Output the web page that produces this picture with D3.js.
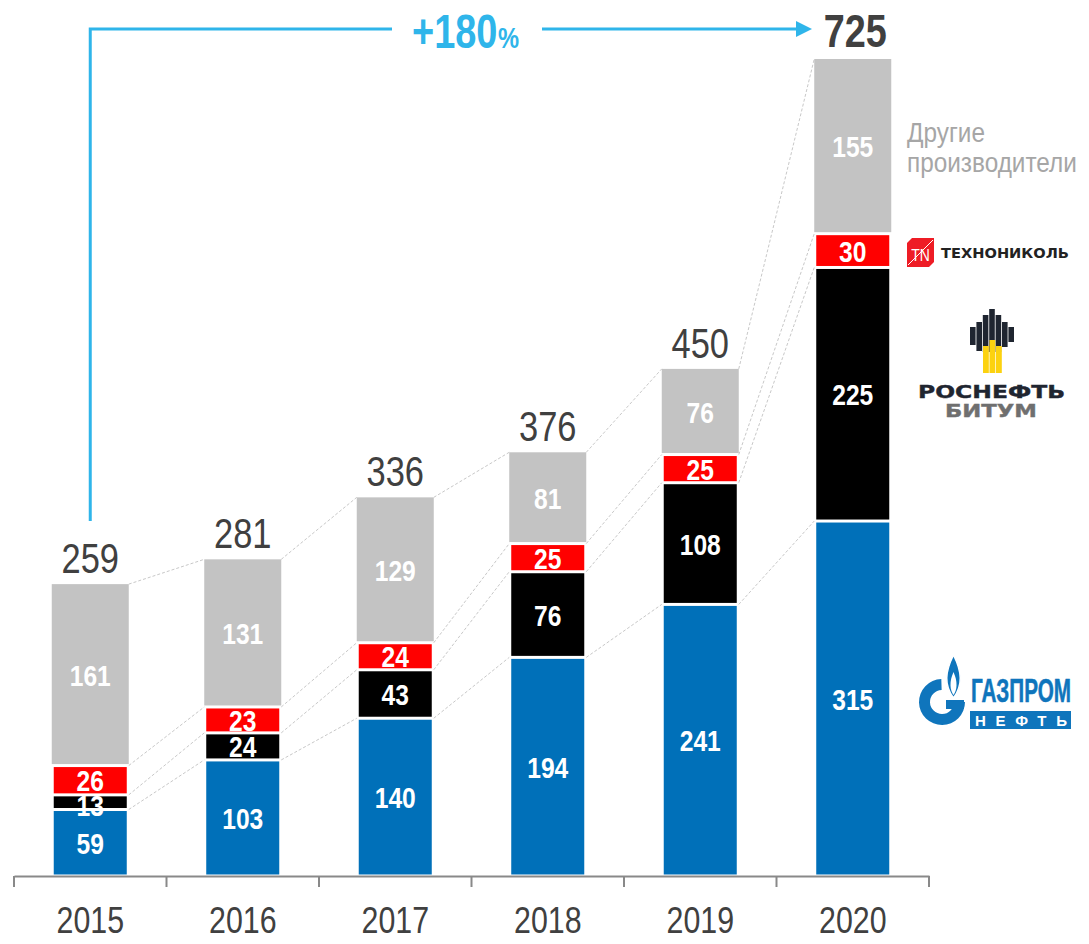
<!DOCTYPE html>
<html><head><meta charset="utf-8">
<script src="https://cdn.jsdelivr.net/npm/d3@7"></script>
<style>html,body{margin:0;padding:0;background:#fff}svg{display:block}text{font-family:"Liberation Sans",sans-serif}</style>
</head><body><div id="chart"></div>
<script>
const years = ["2015","2016","2017","2018","2019","2020"];
const gazprom = [59,103,140,194,241,315];
const rosneft = [13,24,43,76,108,225];
const technonikol = [26,23,24,25,25,30];
const others = [161,131,129,81,76,155];
const totals = [259,281,336,376,450,725];
const growthLabel = "+180";
const seriesKeys = ["gazprom","rosneft","technonikol","others"];
const seriesValues = {gazprom,rosneft,technonikol,others};
const seriesColors = {gazprom:"#0070b9",rosneft:"#000000",technonikol:"#ff0000",others:"#c3c3c3"};
const othersLegend = ["Другие","производители"];

const W=1089,H=944,blue="#2fb5ea",dark="#404040";
const narrow=function(sel,f=0.82){sel.each(function(d){
  const k=typeof f==="function"?f(d):f;
  this.setAttribute("textLength",this.getComputedTextLength()*k);
  this.setAttribute("lengthAdjust","spacingAndGlyphs");});};
const svg=d3.select("#chart").append("svg").attr("width",W).attr("height",H);
const x=d3.scaleBand().domain(years).range([14,929]).paddingInner(0.495).paddingOuter(0.2475);
const y=d3.scaleLinear().domain([0,725]).range([876,59]);
const rows=years.map((yr,i)=>{const r={year:yr};seriesKeys.forEach(k=>r[k]=seriesValues[k][i]);return r;});
const stacked=d3.stack().keys(seriesKeys)(rows);

// connectors
const conn=svg.append("g").attr("stroke","#c8c8c8").attr("stroke-width",1).attr("stroke-dasharray","3 2").attr("fill","none");
stacked.forEach(s=>{
  s.forEach((d,i)=>{
    if(i===s.length-1)return;
    const n=s[i+1];
    conn.append("line")
      .attr("x1",x(years[i])+x.bandwidth()).attr("y1",y(d[1]))
      .attr("x2",x(years[i+1])).attr("y2",y(n[1]));
  });
});

// bars
stacked.forEach(s=>{
  const inset=s.key==="others"?0:2;
  const g=svg.append("g");
  g.selectAll("rect").data(s).join("rect")
    .attr("x",(d,i)=>x(years[i])+inset)
    .attr("width",x.bandwidth()-inset*2)
    .attr("y",d=>y(d[1])+(s.key==="others"?0:1.5))
    .attr("height",d=>y(d[0])-y(d[1])-(s.key==="others"?1.5:3))
    .attr("fill",seriesColors[s.key]);
});
// value labels
stacked.forEach(s=>{
  svg.append("g").selectAll("text").data(s).join("text")
    .attr("x",(d,i)=>x(years[i])+x.bandwidth()/2)
    .attr("y",d=>(y(d[0])+y(d[1]))/2+11+(d[1]-d[0]<20?3:0))
    .attr("text-anchor","middle").attr("font-size",30).attr("font-weight",700).attr("fill","#fff")
    .text(d=>d[1]-d[0]).call(narrow);
});
// totals
svg.append("g").selectAll("text").data(totals).join("text")
  .attr("x",(d,i)=>x(years[i])+x.bandwidth()/2+(d===725?2.5:0))
  .attr("y",d=>y(d)-(d===725?12:11))
  .attr("text-anchor","middle").attr("fill",dark)
  .attr("font-size",d=>d===725?47:42).attr("font-weight",d=>d===725?700:400)
  .text(d=>d).call(narrow,d=>d===725?0.805:0.82);

// axis
const axisG=svg.append("g").attr("transform","translate(0,876)");
axisG.call(d3.axisBottom(x).tickSize(0).tickPadding(31));
axisG.select(".domain").attr("stroke","#898989").attr("stroke-width",2);
axisG.selectAll(".tick text").attr("font-size",37).attr("fill",dark)
  .style("font-family",'"Liberation Sans",sans-serif').call(narrow);
const edges=years.map(yr=>x(yr)-x.step()*0.2475).concat([x(years[5])+x.bandwidth()+x.step()*0.2475]);
axisG.selectAll(".edge").data(edges).join("line").attr("class","edge")
  .attr("x1",d=>d).attr("x2",d=>d).attr("y1",0).attr("y2",11)
  .attr("stroke","#898989").attr("stroke-width",2);

// growth arrow
const cx0=x(years[0])+x.bandwidth()/2;
svg.append("path").attr("d",`M${cx0},521V29H392`).attr("fill","none").attr("stroke",blue).attr("stroke-width",3);
svg.append("path").attr("d","M542,29H798").attr("fill","none").attr("stroke",blue).attr("stroke-width",3);
svg.append("path").attr("d","M796,21L812,29L796,37Z").attr("fill",blue);
svg.append("text").attr("x",412).attr("y",48).attr("fill",blue).attr("font-weight",700)
  .attr("font-size",48).text(growthLabel).call(narrow,0.79);
svg.append("text").attr("x",498).attr("y",48).attr("fill",blue).attr("font-weight",700)
  .attr("font-size",30).text("%").call(narrow,0.79);

// others legend
svg.append("g").selectAll("text").data(othersLegend).join("text")
  .attr("x",907).attr("y",(d,i)=>142+i*30).attr("font-size",27.5).attr("fill","#a6a6a6").text(d=>d).call(narrow,0.885);

// Technonikol logo
const tn=svg.append("g");
tn.append("path").attr("d","M912,238H934V262L929,267H907V243Z").attr("fill","#ee1c25");
tn.append("path").attr("d","M908,265L933,240").attr("stroke","#fff").attr("stroke-width",1).attr("fill","none");
tn.append("text").attr("x",920.5).attr("y",261).attr("text-anchor","middle").attr("font-size",17).attr("fill","#fff").text("TN").call(narrow);
tn.append("text").attr("x",941).attr("y",258).attr("font-size",14).attr("font-weight",700).attr("fill","#222")
  .attr("textLength",128).attr("lengthAdjust","spacingAndGlyphs")
  .style("font-family",'"DejaVu Sans",sans-serif').text("ТЕХНОНИКОЛЬ");

// Rosneft logo
const rn=svg.append("g");
const rnCols=[[970,327,342,345],[976.4,322,347,351],[982.8,315,352,352],[989.2,309,352,352],[995.6,315,352,352],[1002,322,351,347],[1008.4,327,345,342]];
rnCols.forEach(c=>rn.append("path").attr("d",`M${c[0]},${c[1]}h5.6V${c[3]}h-5.6Z`).attr("fill","#1f2530"));
[[983,346],[989.5,340],[996,346]].forEach(c=>rn.append("rect").attr("x",c[0]).attr("y",c[1]).attr("width",5.8).attr("height",373-c[1]).attr("fill","#fcd20f"));
rn.append("text").attr("x",918).attr("y",398).attr("font-size",18).attr("font-weight",700).attr("fill","#1f2530")
  .attr("stroke","#1f2530").attr("stroke-width",0.4)
  .attr("textLength",147).attr("lengthAdjust","spacingAndGlyphs")
  .style("font-family",'"DejaVu Sans",sans-serif').text("РОСНЕФТЬ");
rn.append("text").attr("x",945).attr("y",417).attr("font-size",18).attr("font-weight",700).attr("fill","#6f6f6f")
  .attr("stroke","#6f6f6f").attr("stroke-width",0.4)
  .attr("textLength",92).attr("lengthAdjust","spacingAndGlyphs")
  .style("font-family",'"DejaVu Sans",sans-serif').text("БИТУМ");

// Gazprom Neft logo
const gz=svg.append("g"),gzc="#0f75bc";
const gArc=d3.arc().innerRadius(12).outerRadius(23);
gz.append("path").attr("transform","translate(942,702)")
  .attr("d",gArc({startAngle:-Math.PI*1.5,endAngle:-0.03})).attr("fill",gzc);
gz.append("rect").attr("x",946).attr("y",700).attr("width",18).attr("height",9).attr("fill",gzc);
gz.append("path").attr("d","M953.5,655C945,672 944,685 953.5,698C963,685 962,672 953.5,655Z").attr("fill",gzc).attr("stroke","#fff").attr("stroke-width",1.5);
gz.append("path").attr("d","M953.5,672C949,682 950,690 953.5,695C957,690 958,682 953.5,672Z").attr("fill","#fff");
gz.append("text").attr("x",971).attr("y",702).attr("font-size",34).attr("font-weight",700).attr("fill",gzc)
  .attr("stroke",gzc).attr("stroke-width",0.6)
  .attr("textLength",100).attr("lengthAdjust","spacingAndGlyphs").text("ГАЗПРОМ");
gz.append("rect").attr("x",970).attr("y",711).attr("width",101).attr("height",18).attr("fill",gzc);
gz.append("text").attr("x",975).attr("y",725.5).attr("font-size",15).attr("font-weight",700).attr("fill","#fff")
  .attr("textLength",92).attr("lengthAdjust","spacing").text("НЕФТЬ");
</script></body></html>
